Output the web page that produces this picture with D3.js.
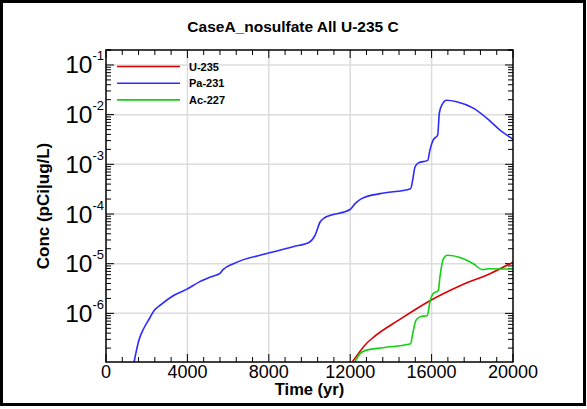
<!DOCTYPE html>
<html>
<head>
<meta charset="utf-8">
<script src="https://cdn.jsdelivr.net/npm/d3@7"></script>
<style>
  body { margin: 0; background: #fff; }
  text { font-family: "Liberation Sans", Arial, sans-serif; }
</style>
</head>
<body>
<div id="chart"></div>
<script>
const width = 587,
    height = 409,
    margin = ({ top: 50, right: 74, bottom: 47, left: 106 });

// values
const seriesNames = ["U-235", "Pa-231", "Ac-227"];
const seriesColors = ["#dc0000", "#2b2bff", "#11d011"];

const u235Time = [12120, 12810, 13140, 14400, 15920, 17400, 18870, 20000];
const u235Conc = [1.07e-7, 2.5e-7, 3.3e-7, 7.4e-7, 1.8e-6, 3.6e-6, 6.3e-6, 1.07e-5];

const pa231Time = [1380, 1620, 1880, 2130, 2375, 2700, 3280, 3930, 4590, 5240, 5600, 5750, 6260, 7900,
    9200, 9990, 10270, 10520, 10760, 11000, 11990, 12240, 12560, 13460, 14970, 15070, 15180, 15350,
    15810, 15920, 16080, 16300, 16380, 16500, 16740, 17230, 18050, 18710, 19360, 20000];
const pa231Conc = [1.05e-7, 2.9e-7, 5.2e-7, 7.8e-7, 1.15e-6, 1.5e-6, 2.24e-6, 3.0e-6, 4.3e-6, 5.6e-6, 6.4e-6, 7.6e-6, 1.0e-5, 1.6e-5,
    2.2e-5, 2.7e-5, 3.7e-5, 6.9e-5, 8.5e-5, 9.3e-5, 1.23e-4, 1.62e-4, 2.04e-4, 2.57e-4, 3.24e-4, 4.8e-4, 8.7e-4, 1.07e-3,
    1.2e-3, 1.95e-3, 3.1e-3, 3.9e-3, 1.07e-2, 1.55e-2, 1.95e-2, 1.82e-2, 1.35e-2, 8.5e-3, 4.9e-3, 3.2e-3];

const ac227Time = [12240, 12480, 12730, 13630, 14970, 15070, 15230, 15430, 15790, 15920, 16080, 16330,
    16410, 16580, 16770, 17560, 18050, 18510, 18790, 20000];
const ac227Conc = [1.07e-7, 1.55e-7, 1.78e-7, 2.04e-7, 2.45e-7, 3.9e-7, 7.2e-7, 8.5e-7, 9.1e-7, 1.7e-6, 2.5e-6, 2.9e-6,
    5.4e-6, 1.26e-5, 1.48e-5, 1.26e-5, 1.0e-5, 7.6e-6, 7.9e-6, 7.8e-6];

const xTicks = [0, 4000, 8000, 12000, 16000, 20000];
const yTicks = [-6, -5, -4, -3, -2, -1];  // exponents

const series = [
    { name: seriesNames[0], color: seriesColors[0], t: u235Time, c: u235Conc },
    { name: seriesNames[1], color: seriesColors[1], t: pa231Time, c: pa231Conc },
    { name: seriesNames[2], color: seriesColors[2], t: ac227Time, c: ac227Conc }
];

const svg = d3.select("#chart")
    .append("svg")
    .attr("width", width)
    .attr("height", height);

// outer frame
svg.append("rect")
    .attr("x", 1.5).attr("y", 1.5)
    .attr("width", width - 4).attr("height", height - 6)
    .attr("fill", "none").attr("stroke", "#000").attr("stroke-width", 3);

let x = d3.scaleLinear()
    .domain([0, 20000])
    .range([margin.left, width - margin.right]);

let y = d3.scaleLog()
    .domain([1.05e-7, 0.2])
    .range([height - margin.bottom, margin.top]);

const x0 = x.range()[0], x1 = x.range()[1], y0 = y.range()[0], y1 = y.range()[1];

svg.append("defs").append("clipPath").attr("id", "clip")
    .append("rect").attr("x", x0).attr("y", y1).attr("width", x1 - x0).attr("height", y0 - y1);

// grid
svg.append("g").selectAll("line")
    .data(xTicks.slice(1, -1))
    .join("line")
    .attr("x1", d => x(d)).attr("x2", d => x(d))
    .attr("y1", y1).attr("y2", y0)
    .attr("stroke", "#dcdcdc").attr("stroke-width", 1.5);

svg.append("g").selectAll("line")
    .data(yTicks)
    .join("line")
    .attr("x1", x0).attr("x2", x1)
    .attr("y1", d => y(Math.pow(10, d))).attr("y2", d => y(Math.pow(10, d)))
    .attr("stroke", "#dcdcdc").attr("stroke-width", 1.5);

// ticks: minor x every 800
const xMinor = d3.range(0, 20001, 800);
const yMinor = [];
for (let e = -7; e <= -1; e++) for (let m = 1; m <= 9; m++) {
    let v = m * Math.pow(10, e);
    if (v >= y.domain()[0] && v <= y.domain()[1]) yMinor.push({ v: v, major: m === 1 });
}
yMinor.push({ v: 0.2, major: false });

const ticks = svg.append("g").attr("stroke", "#000").attr("stroke-width", 1);
xMinor.forEach(t => {
    const major = t % 4000 === 0;
    const len = major ? 8 : 5;
    ticks.append("line").attr("x1", x(t)).attr("x2", x(t)).attr("y1", y0).attr("y2", y0 - len);
    ticks.append("line").attr("x1", x(t)).attr("x2", x(t)).attr("y1", y1).attr("y2", y1 + len);
});
yMinor.forEach(d => {
    const len = d.major ? 8 : 5;
    ticks.append("line").attr("x1", x0).attr("x2", x0 + len).attr("y1", y(d.v)).attr("y2", y(d.v));
    ticks.append("line").attr("x1", x1).attr("x2", x1 - len).attr("y1", y(d.v)).attr("y2", y(d.v));
});

// lines
let line = d3.line()
    .x(d => x(d[0]))
    .y(d => y(d[1]))
    .curve(d3.curveMonotoneX);

svg.append("g").attr("clip-path", "url(#clip)")
    .selectAll("path")
    .data(series)
    .join("path")
    .attr("d", s => line(s.t.map((t, i) => [t, s.c[i]])))
    .attr("fill", "none")
    .attr("stroke", s => s.color)
    .attr("stroke-width", 1.6);

// plot frame
svg.append("rect")
    .attr("x", x0).attr("y", y1).attr("width", x1 - x0).attr("height", y0 - y1)
    .attr("fill", "none").attr("stroke", "#000").attr("stroke-width", 1.5);

// tick labels
svg.append("g").selectAll("text")
    .data(xTicks)
    .join("text")
    .attr("x", d => x(d)).attr("y", y0 + 16)
    .attr("text-anchor", "middle")
    .attr("font-size", 18)
    .text(d => d);

const yl = svg.append("g").selectAll("text")
    .data(yTicks)
    .join("text")
    .attr("x", x0 - 2).attr("y", d => y(Math.pow(10, d)) + 8.5)
    .attr("text-anchor", "end")
    .attr("font-size", 24.5);
yl.append("tspan").text("10");
yl.append("tspan").attr("font-size", 13).attr("dy", -13).text(d => d);

// legend
const lg = svg.append("g").selectAll("g")
    .data(series)
    .join("g")
    .attr("transform", (d, i) => `translate(117,${66.5 + i * 16.7})`);
lg.append("line").attr("x1", 0).attr("x2", 63)
    .attr("stroke", d => d.color).attr("stroke-width", 1.6);
lg.append("text").attr("x", 72).attr("y", 4)
    .attr("font-size", 11).attr("font-weight", "bold")
    .text(d => d.name);

// titles
svg.append("text")
    .attr("x", 293).attr("y", 32)
    .attr("text-anchor", "middle")
    .attr("font-size", 15.5).attr("font-weight", "bold")
    .text("CaseA_nosulfate All U-235 C");

svg.append("text")
    .attr("x", (x0 + x1) / 2).attr("y", 395)
    .attr("text-anchor", "middle")
    .attr("font-size", 16.5).attr("font-weight", "bold")
    .text("Time (yr)");

svg.append("text")
    .attr("transform", `translate(49,${(y0 + y1) / 2}) rotate(-90)`)
    .attr("text-anchor", "middle")
    .attr("font-size", 17).attr("font-weight", "bold")
    .text("Conc (pCi|ug/L)");
</script>
</body>
</html>
